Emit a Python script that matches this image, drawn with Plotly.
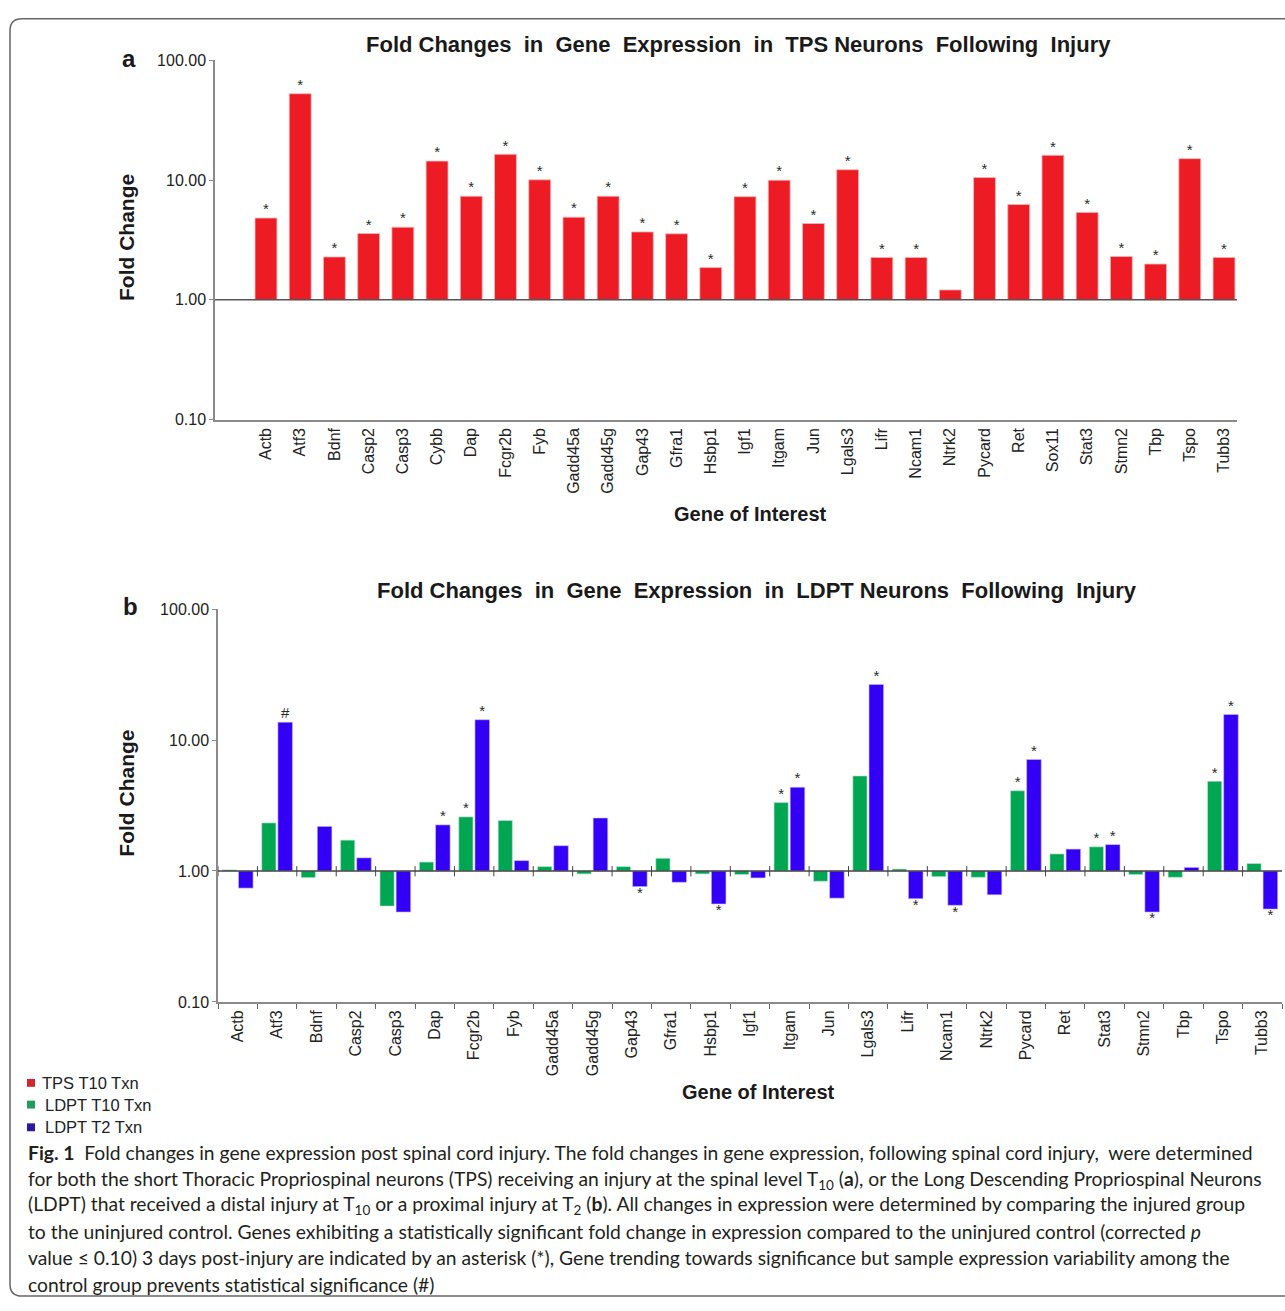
import plotly.graph_objects as go

# ---- data -------------------------------------------------------------
genes_tps = ["Actb", "Atf3", "Bdnf", "Casp2", "Casp3", "Cybb", "Dap", "Fcgr2b", "Fyb",
             "Gadd45a", "Gadd45g", "Gap43", "Gfra1", "Hsbp1", "Igf1", "Itgam", "Jun",
             "Lgals3", "Lifr", "Ncam1", "Ntrk2", "Pycard", "Ret", "Sox11", "Stat3",
             "Stmn2", "Tbp", "Tspo", "Tubb3"]
tps_t10 = [4.82, 52.6, 2.28, 3.58, 4.04, 14.4, 7.33, 16.4, 10.05, 4.9, 7.33, 3.69, 3.56,
           1.86, 7.27, 9.98, 4.34, 12.2, 2.26, 2.26, 1.21, 10.5, 6.25, 16.1, 5.37, 2.30,
           1.99, 15.1, 2.26]
tps_sig = ["*", "*", "*", "*", "*", "*", "*", "*", "*", "*", "*", "*", "*", "*", "*", "*",
           "*", "*", "*", "*", "", "*", "*", "*", "*", "*", "*", "*", "*"]

genes_ldpt = ["Actb", "Atf3", "Bdnf", "Casp2", "Casp3", "Dap", "Fcgr2b", "Fyb", "Gadd45a",
              "Gadd45g", "Gap43", "Gfra1", "Hsbp1", "Igf1", "Itgam", "Jun", "Lgals3",
              "Lifr", "Ncam1", "Ntrk2", "Pycard", "Ret", "Stat3", "Stmn2", "Tbp", "Tspo",
              "Tubb3"]
ldpt_t10 = [1.02, 2.33, 0.89, 1.72, 0.54, 1.17, 2.59, 2.43, 1.08, 0.95, 1.08, 1.25, 0.95,
            0.94, 3.33, 0.835, 5.32, 1.035, 0.905, 0.895, 4.1, 1.35, 1.53, 0.94, 0.895,
            4.84, 1.14]
ldpt_t2 = [0.74, 13.7, 2.19, 1.26, 0.486, 2.25, 14.3, 1.2, 1.56, 2.54, 0.76, 0.82, 0.56,
           0.885, 4.36, 0.62, 26.6, 0.614, 0.547, 0.658, 7.11, 1.47, 1.59, 0.486, 1.065,
           15.7, 0.512]
ldpt_t10_sig = ["", "", "", "", "", "", "*", "", "", "", "", "", "", "", "*", "", "", "",
                "", "", "*", "", "*", "", "", "*", ""]
ldpt_t2_sig = ["", "#", "", "", "", "*", "*", "", "", "", "*", "", "*", "", "*", "", "*",
               "*", "*", "", "*", "", "*", "*", "", "*", "*"]

legend_labels = ["TPS T10 Txn", "LDPT T10 Txn", "LDPT T2 Txn"]

title_a = "Fold Changes  in  Gene  Expression  in  TPS Neurons  Following  Injury"
title_b = "Fold Changes  in  Gene  Expression  in  LDPT Neurons  Following  Injury"

caption = [
    "<b>Fig. 1</b>  Fold changes in gene expression post spinal cord injury. The fold changes in gene expression, following spinal cord injury,  were determined",
    "for both the short Thoracic Propriospinal neurons (TPS) receiving an injury at the spinal level T<sub>10</sub> (<b>a</b>), or the Long Descending Propriospinal Neurons",
    "(LDPT) that received a distal injury at T<sub>10</sub> or a proximal injury at T<sub>2</sub> (<b>b</b>). All changes in expression were determined by comparing the injured group",
    "to the uninjured control. Genes exhibiting a statistically significant fold change in expression compared to the uninjured control (corrected <i>p</i>",
    "value \u2264 0.10) 3 days post-injury are indicated by an asterisk (*), Gene trending towards significance but sample expression variability among the",
    "control group prevents statistical significance (#)",
]

# ---- styling ----------------------------------------------------------
W, H = 1285, 1311
RED, GREEN, BLUE = "#ED1C24", "#00A651", "#3300F5"
LEG_COLORS = ["#D3262E", "#1E9E5A", "#2A1AA0"]
AX = "#8a8a8a"
FONT = "Liberation Sans, Arial, sans-serif"
SIG_FONT = dict(size=15, color="#2a2a2a", family=FONT)


def px(x):
    return x / W


def py(y):
    return 1 - y / H


fig = go.Figure()

# panel a: bars drawn from 1.0 (baseline) on a log axis
fig.add_trace(go.Bar(
    x=genes_tps, y=[v - 1 for v in tps_t10], base=1, width=0.64,
    marker=dict(color=RED, line=dict(color="#f3b7b9", width=0.8)),
    xaxis="x", yaxis="y", showlegend=False, hoverinfo="skip"))
sig_a = [(g, v, m) for g, v, m in zip(genes_tps, tps_t10, tps_sig) if m]
fig.add_trace(go.Scatter(
    x=[s[0] for s in sig_a], y=[s[1] for s in sig_a], text=[s[2] for s in sig_a],
    mode="text", textposition="top center", textfont=SIG_FONT,
    xaxis="x", yaxis="y", showlegend=False, hoverinfo="skip"))

# panel b: two injury levels side by side
fig.add_trace(go.Bar(
    x=genes_ldpt, y=[v - 1 for v in ldpt_t10], base=1, width=0.36, offset=-0.39,
    marker=dict(color=GREEN, line=dict(color="#bfe8d0", width=0.6)),
    xaxis="x2", yaxis="y2", showlegend=False, hoverinfo="skip"))
fig.add_trace(go.Bar(
    x=genes_ldpt, y=[v - 1 for v in ldpt_t2], base=1, width=0.37, offset=0.02,
    marker=dict(color=BLUE, line=dict(color="#c8c0ff", width=0.6)),
    xaxis="x2", yaxis="y2", showlegend=False, hoverinfo="skip"))


def sig_traces(values, marks, shift):
    groups = {"top center": ([], [], []), "bottom center": ([], [], [])}
    for i, (v, m) in enumerate(zip(values, marks)):
        if not m:
            continue
        xs, ys, ts = groups["top center" if v >= 1 else "bottom center"]
        xs.append(i + shift); ys.append(v); ts.append(m)
    out = []
    for pos, (xs, ys, ts) in groups.items():
        if xs:
            out.append(go.Scatter(x=xs, y=ys, text=ts, mode="text", textposition=pos,
                                  textfont=SIG_FONT, xaxis="x3", yaxis="y2",
                                  showlegend=False, hoverinfo="skip"))
    return out


for tr in sig_traces(ldpt_t10, ldpt_t10_sig, -0.21) + sig_traces(ldpt_t2, ldpt_t2_sig, 0.205):
    fig.add_trace(tr)

ytick_vals = [0.1, 1, 10, 100]
ytick_text = ["0.10", "1.00", "10.00", "100.00"]
yax_common = dict(type="log", range=[-1, 2], tickvals=ytick_vals, ticktext=ytick_text,
                  showgrid=False, zeroline=False, showline=True, linecolor=AX, linewidth=1.5,
                  ticks="outside", ticklen=4, tickcolor=AX,
                  tickfont=dict(size=16, color="#222", family=FONT), fixedrange=True)

n_b = len(genes_ldpt)
fig.update_layout(
    width=W, height=H, margin=dict(l=0, r=0, t=0, b=0),
    paper_bgcolor="white", plot_bgcolor="white", barmode="overlay",
    font=dict(family=FONT, color="#222"),
    xaxis=dict(domain=[px(215), px(1237)], anchor="y", type="category",
               range=[-1.49, len(genes_tps) - 1 + 0.38],
               showgrid=False, showline=True, linecolor=AX, linewidth=2, ticks="",
               tickangle=-90, tickfont=dict(size=16, color="#222", family=FONT)),
    yaxis=dict(domain=[py(417), py(53)], anchor="x", **yax_common),
    xaxis2=dict(domain=[px(218), px(1282)], anchor="y2", type="category",
                range=[-0.5, n_b - 0.5],
                showgrid=False, showline=True, linecolor=AX, linewidth=2,
                ticks="outside", tickson="boundaries", ticklen=5, tickcolor="#666",
                tickangle=-90, tickfont=dict(size=16, color="#222", family=FONT)),
    xaxis3=dict(domain=[px(218), px(1282)], anchor="y2", overlaying="x2", type="linear",
                range=[-0.5, n_b - 0.5], visible=False),
    yaxis2=dict(domain=[py(1007), py(609)], anchor="x2", **yax_common),
)

shapes = []
# baseline at fold change 1.0
shapes.append(dict(type="line", xref="x domain", yref="y", x0=0, x1=1, y0=1, y1=1,
                   line=dict(color="#555", width=1.5)))
shapes.append(dict(type="line", xref="x2 domain", yref="y2", x0=0, x1=1, y0=1, y1=1,
                   line=dict(color="#444", width=1.5)))
# category separators crossing the panel b baseline
for k in range(n_b):
    b = k - 0.5
    shapes.append(dict(type="line", xref="x3", yref="y2", x0=b, x1=b, y0=0.91, y1=1.09,
                       line=dict(color="#444", width=1)))

# rounded frame around the figure
x0, x1 = px(10), 1.05
y1, y0 = py(11), py(1305)
rx, ry = 12 / W, 12 / H
frame = (f"M {x0 + rx},{y1} L {x1},{y1} L {x1},{y0} L {x0 + rx},{y0} "
         f"Q {x0},{y0} {x0},{y0 + ry} L {x0},{y1 - ry} Q {x0},{y1} {x0 + rx},{y1} Z")
shapes.append(dict(type="path", xref="paper", yref="paper", path=frame,
                   line=dict(color="#666", width=1.5), fillcolor="rgba(0,0,0,0)", layer="below"))

# legend swatches
for i, c in enumerate(LEG_COLORS):
    yc = [1089, 1111, 1134][i]
    shapes.append(dict(type="rect", xref="paper", yref="paper",
                       x0=px(27), x1=px(35), y0=py(yc + 4), y1=py(yc - 4),
                       fillcolor=c, line=dict(width=0)))
fig.update_layout(shapes=shapes)

ann = []


def text(x, y, s, size, bold=False, anchor="center", angle=0, color="#1a1a1a", family=FONT):
    ann.append(dict(x=px(x), y=py(y), xref="paper", yref="paper", showarrow=False,
                    text=f"<b>{s}</b>" if bold else s, xanchor=anchor, yanchor="middle",
                    textangle=angle, font=dict(size=size, color=color, family=family)))


text(739, 37, title_a, 22, bold=True)
text(757, 590, title_b, 22, bold=True)
text(129, 51, "a", 24, bold=True)
text(130, 606, "b", 24, bold=True)
text(127, 233, "Fold Change", 21, bold=True, angle=-90)
text(127, 796, "Fold Change", 21, bold=True, angle=-90)
text(750, 513, "Gene of Interest", 20, bold=True)
text(758, 1098, "Gene of Interest", 20, bold=True)
for lab, yc, xs in zip(legend_labels, [1089, 1111, 1134], [40, 43, 43]):
    text(xs, yc, lab, 16.5, anchor="left", color="#222")

cap_y = [1160, 1187, 1213, 1240, 1266, 1293]
for line, yc in zip(caption, cap_y):
    text(26, yc, line, 19.3, anchor="left", color="#231f20", family="Lato, sans-serif")

fig.update_layout(annotations=ann)
fig.write_html("out.html")
